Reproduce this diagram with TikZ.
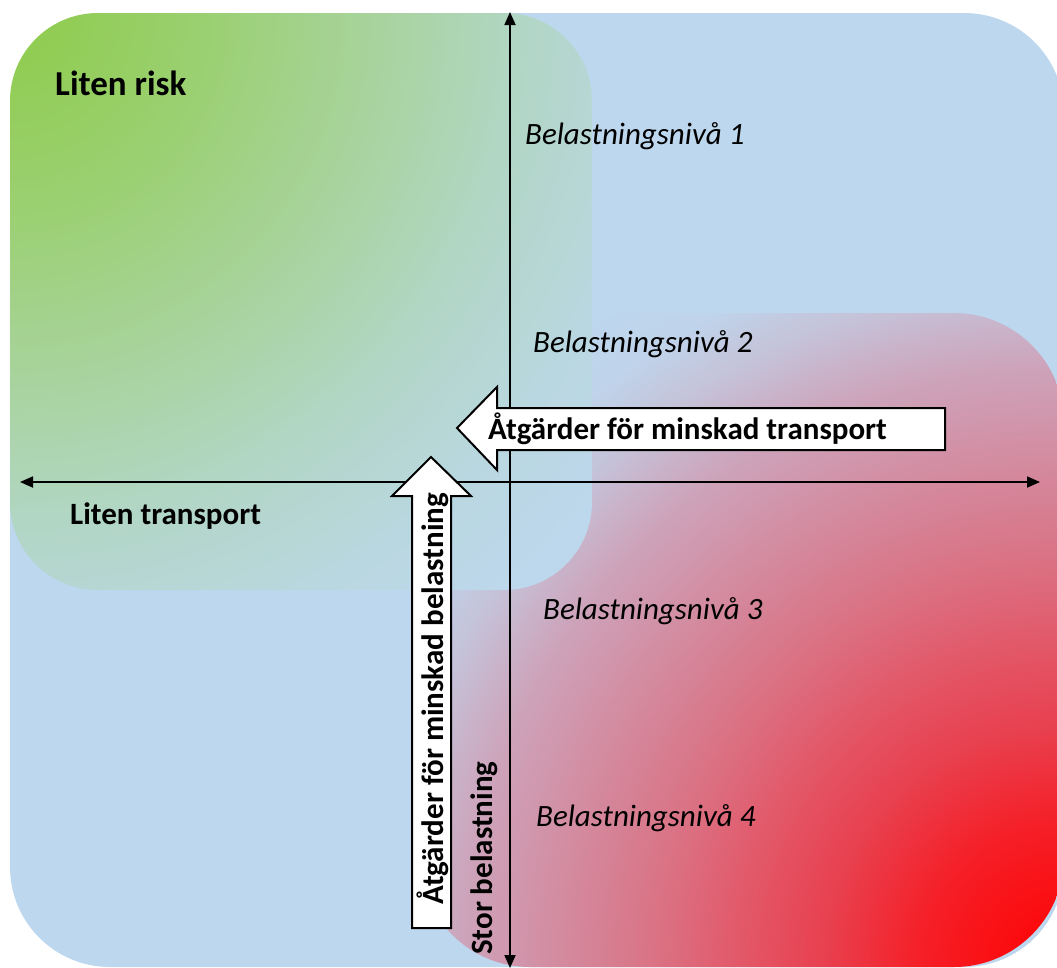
\documentclass[tikz,border=0pt]{standalone}
\usepackage{fontspec}
\setmainfont{Carlito}
\usetikzlibrary{arrows.meta}
\definecolor{bgblue}{HTML}{BDD7EE}
\definecolor{gA}{HTML}{8ECC4B}
\definecolor{gB}{HTML}{9BD072}
\definecolor{gC}{HTML}{ABD4A8}
\definecolor{gD}{HTML}{B2D6C6}
\definecolor{gE}{HTML}{B9D7E0}
\definecolor{gF}{HTML}{BDD7EC}
\definecolor{rA}{HTML}{FF0000}
\definecolor{rB}{HTML}{F51F27}
\definecolor{rC}{HTML}{E8404F}
\definecolor{rD}{HTML}{E45262}
\definecolor{rE}{HTML}{DA7284}
\definecolor{rF}{HTML}{CDA3BA}
\definecolor{rG}{HTML}{C5C2D8}
\definecolor{rH}{HTML}{BFD3EA}
% radial shadings centred at origin; 25bp = circle radius (1000pt)
\pgfdeclareradialshading{greenrad}{\pgfpointorigin}{color(0bp)=(gA); color(5bp)=(gB); color(10.2bp)=(gC); color(12.9bp)=(gD); color(16.25bp)=(gE); color(19bp)=(gF); color(50bp)=(gF)}
\pgfdeclareradialshading{redrad}{\pgfpointorigin}{color(0bp)=(rA); color(3.6bp)=(rB); color(6bp)=(rC); color(7.6bp)=(rD); color(10.2bp)=(rE); color(15bp)=(rF); color(17bp)=(rG); color(18.5bp)=(rH); color(20bp)=(bgblue); color(50bp)=(bgblue)}
\begin{document}
\begin{tikzpicture}[x=1pt,y=-1pt,
  axis/.style={line width=1.8pt, {Triangle[length=13pt,width=11pt]}-{Triangle[length=13pt,width=11pt]}},
  blockarrow/.style={fill=white, draw=black, line width=2pt, line join=miter},
  lvl/.style={font=\fontsize{31}{37}\selectfont\itshape, inner sep=0pt, anchor=base west},
  lbl/.style={font=\fontsize{31}{37}\selectfont\bfseries, inner sep=0pt, anchor=base west}]
\useasboundingbox (0,0) rectangle (1057,967);
\clip (0,0) rectangle (1057,967);
% background regions
\fill[bgblue, rounded corners=100pt] (10,13) rectangle (1064,967);
\begin{scope}
  \clip[rounded corners=110pt] (420,313) rectangle (1064,967);
  \shade[shading=redrad] (1064,967) circle[radius=1000pt];
\end{scope}
\begin{scope}
  \clip[rounded corners=88pt] (10,13) rectangle (592,590);
  \shade[shading=greenrad] (10,13) circle[radius=1000pt];
\end{scope}
% axes
\coordinate (xl) at (20,482);
\coordinate (xr) at (1040,482);
\coordinate (yt) at (510,12);
\coordinate (yb) at (510,968);
\draw[axis] (xl) -- (xr);
\draw[axis] (yt) -- (yb);
% block arrows
\draw[blockarrow] (457,428) -- (497,387) -- (497,408) -- (945,408) -- (945,450) -- (497,450) -- (497,470) -- cycle;
\draw[blockarrow] (431,457) -- (471,496) -- (451,496) -- (451,928) -- (412,928) -- (412,496) -- (392,496) -- cycle;
% texts
\node[lbl, font=\fontsize{35}{42}\selectfont\bfseries] (risk) at (55,95) {Liten risk};
\node[lbl] (transp) at (70,524) {Liten transport};
\node[lbl] (atgT) at (488,439) {Åtgärder för minskad transport};
\node[lbl, rotate=90] (atgB) at (443,905) {Åtgärder för minskad belastning};
\node[lbl, rotate=90] (stor) at (492,955) {Stor belastning};
\node[lvl] (n1) at (525,144) {Belastningsnivå 1};
\node[lvl] (n2) at (533,352) {Belastningsnivå 2};
\node[lvl] (n3) at (543,619) {Belastningsnivå 3};
\node[lvl] (n4) at (536,826) {Belastningsnivå 4};
\end{tikzpicture}
\end{document}
